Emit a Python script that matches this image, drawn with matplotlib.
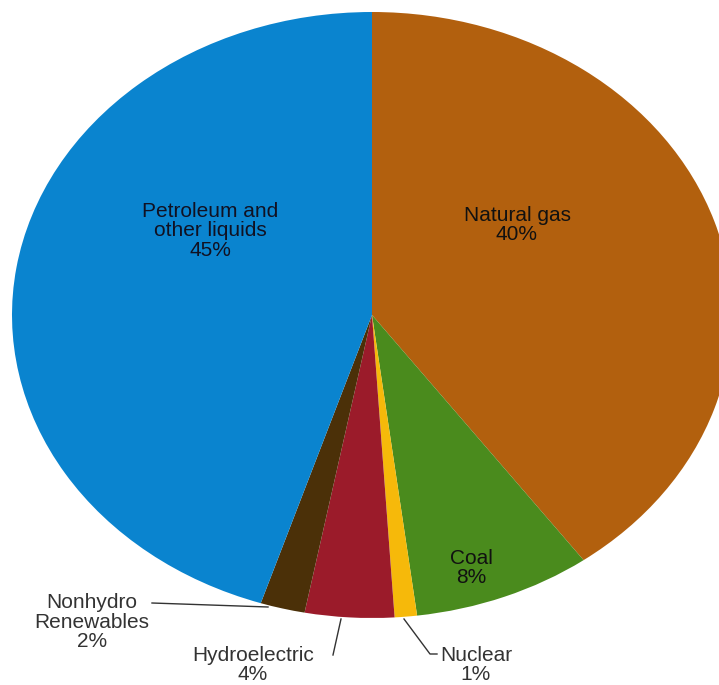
import matplotlib
matplotlib.use("Agg")
import matplotlib.pyplot as plt

# energy mix shares, clockwise from 12 o'clock
sources = ["Natural gas", "Coal", "Nuclear", "Hydroelectric", "Nonhydro Renewables", "Petroleum and other liquids"]
shares = [40, 8, 1, 4, 2, 45]
colors = ["#b2600e", "#4a8b1d", "#f6b90a", "#9b1b2a", "#4b3008", "#0a84cf"]

W, H = 719, 685
cx, cy, rx, ry = 372, 315, 360, 303  # ellipse in pixels


def px(x, y):
    """pixel position -> data coords of the stretched unit pie"""
    return (x - cx) / rx, (cy - y) / ry


fig = plt.figure(figsize=(W / 100, H / 100), dpi=100)
ax = fig.add_axes([0, 0, 1, 1])
ax.pie(shares, colors=colors, startangle=90, counterclock=False,
       wedgeprops=dict(linewidth=0))
ax.set_aspect("auto")
ax.set_xlim((0 - cx) / rx, (W - cx) / rx)
ax.set_ylim((cy - H) / ry, cy / ry)
ax.axis("off")

font = dict(family=["Liberation Sans", "DejaVu Sans"], fontsize=15, ha="center", va="center",
            linespacing=1.05)

# labels inside the slices
ax.text(*px(210, 231), "Petroleum and\nother liquids\n45%", color="#111122", **font)
ax.text(*px(517, 225), "Natural gas\n40%", color="#111111", **font)
ax.text(*px(471, 568), "Coal\n8%", color="#111111", **font)

# labels outside with leader lines
line = dict(color="#333333", lw=1)
ax.text(*px(476, 665), "Nuclear\n1%", color="#333333", **font)
ax.plot(*zip(px(404, 619), px(430, 654), px(437, 654)), **line)

ax.text(*px(253, 665), "Hydroelectric\n4%", color="#333333", **font)
ax.plot(*zip(px(341, 619), px(333, 655)), **line)

ax.text(*px(92, 622), "Nonhydro\nRenewables\n2%", color="#333333", **font)
ax.plot(*zip(px(152, 603), px(268, 607)), **line)

fig.savefig("out.png", dpi=100)
